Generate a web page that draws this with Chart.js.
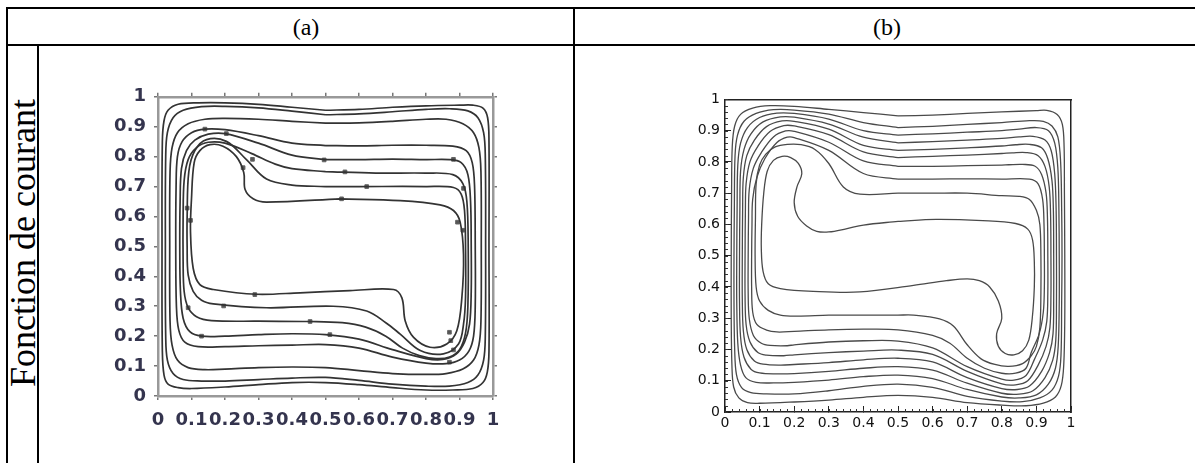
<!DOCTYPE html>
<html>
<head>
<meta charset="utf-8">
<script src="https://cdn.jsdelivr.net/npm/chart.js@4.4.0/dist/chart.umd.min.js"></script>
<style>
  body { margin: 0; background: #fff; width: 1195px; height: 463px; overflow: hidden; position: relative; font-family: "Liberation Serif", "Times New Roman", serif; }
  .ln { position: absolute; background: #000; }
  .hd { position: absolute; top: 27px; font-size: 24px; transform: translate(-50%, -50%); white-space: nowrap; }
  #side { position: absolute; left: 23px; top: 243px; font-size: 36px; white-space: nowrap; transform: translate(-50%, -50%) rotate(-90deg); }
  canvas { position: absolute; }
</style>
</head>
<body>
<div class="ln" style="left:6px;top:7px;width:1189px;height:2px"></div>
<div class="ln" style="left:6px;top:44px;width:1189px;height:2px"></div>
<div class="ln" style="left:6px;top:7px;width:2px;height:456px"></div>
<div class="ln" style="left:37px;top:44px;width:2px;height:419px"></div>
<div class="ln" style="left:573px;top:7px;width:2px;height:456px"></div>
<div class="hd" style="left:306px">(a)</div>
<div class="hd" style="left:887px">(b)</div>
<div id="side">Fonction de courant</div>
<canvas id="chartA" width="420" height="375" style="left:100px;top:78px"></canvas>
<canvas id="chartB" width="435" height="375" style="left:655px;top:80px"></canvas>
<script>
// tick positions and labels shared by both plots
var tickVals = [0, 0.1, 0.2, 0.3, 0.4, 0.5, 0.6, 0.7, 0.8, 0.9, 1];
var tickText = ["0", "0.1", "0.2", "0.3", "0.4", "0.5", "0.6", "0.7", "0.8", "0.9", "1"];

// (a) streamlines, [x, y]
var psiA1 = [[0.5,0.955],[0.4,0.965],[0.3,0.975],[0.2,0.98],[0.12,0.98],[0.06,0.975],[0.03,0.955],[0.018,0.92],[0.013,0.85],[0.012,0.5],[0.013,0.15],[0.018,0.07],[0.03,0.04],[0.06,0.028],[0.1,0.025],[0.2,0.03],[0.3,0.038],[0.4,0.045],[0.5,0.045],[0.6,0.038],[0.7,0.028],[0.8,0.02],[0.88,0.02],[0.94,0.025],[0.97,0.045],[0.983,0.08],[0.988,0.15],[0.988,0.5],[0.988,0.85],[0.984,0.93],[0.97,0.962],[0.94,0.972],[0.9,0.972],[0.8,0.97],[0.7,0.965],[0.6,0.958],[0.5,0.955]];
var psiA2 = [[0.5,0.94],[0.4,0.952],[0.3,0.963],[0.2,0.968],[0.13,0.967],[0.075,0.955],[0.045,0.93],[0.028,0.88],[0.023,0.8],[0.022,0.5],[0.023,0.2],[0.028,0.12],[0.045,0.075],[0.075,0.055],[0.13,0.05],[0.2,0.05],[0.3,0.055],[0.4,0.06],[0.5,0.062],[0.6,0.052],[0.7,0.04],[0.8,0.033],[0.87,0.033],[0.925,0.045],[0.955,0.07],[0.972,0.12],[0.977,0.2],[0.978,0.5],[0.977,0.8],[0.972,0.88],[0.955,0.93],[0.925,0.953],[0.87,0.96],[0.8,0.958],[0.7,0.95],[0.6,0.943],[0.5,0.94]];
var psiA3 = [[0.5,0.912],[0.4,0.918],[0.3,0.925],[0.2,0.928],[0.14,0.925],[0.09,0.91],[0.058,0.88],[0.042,0.83],[0.036,0.75],[0.035,0.5],[0.036,0.25],[0.042,0.17],[0.058,0.12],[0.09,0.095],[0.14,0.088],[0.2,0.09],[0.3,0.095],[0.4,0.097],[0.5,0.095],[0.6,0.085],[0.7,0.075],[0.8,0.072],[0.86,0.075],[0.91,0.09],[0.942,0.12],[0.958,0.17],[0.964,0.25],[0.965,0.5],[0.964,0.75],[0.958,0.83],[0.942,0.88],[0.91,0.91],[0.86,0.925],[0.8,0.925],[0.7,0.918],[0.6,0.913],[0.5,0.912]];
var psiA4 = [[0.5,0.837],[0.4,0.845],[0.3,0.87],[0.2,0.89],[0.14,0.892],[0.1,0.88],[0.072,0.85],[0.058,0.8],[0.054,0.7],[0.053,0.5],[0.055,0.3],[0.062,0.22],[0.08,0.18],[0.12,0.165],[0.2,0.165],[0.3,0.168],[0.4,0.17],[0.5,0.172],[0.6,0.16],[0.7,0.13],[0.8,0.11],[0.86,0.108],[0.9,0.12],[0.928,0.15],[0.942,0.2],[0.947,0.3],[0.947,0.5],[0.945,0.7],[0.938,0.78],[0.92,0.82],[0.88,0.835],[0.8,0.838],[0.7,0.838],[0.6,0.836],[0.5,0.837]];
var psiA5 = [[0.5,0.79],[0.4,0.805],[0.3,0.845],[0.2,0.877],[0.15,0.875],[0.11,0.855],[0.085,0.82],[0.07,0.76],[0.066,0.65],[0.065,0.5],[0.067,0.35],[0.075,0.26],[0.095,0.215],[0.13,0.2],[0.2,0.2],[0.3,0.205],[0.4,0.208],[0.5,0.205],[0.6,0.19],[0.7,0.155],[0.8,0.125],[0.85,0.122],[0.89,0.14],[0.915,0.18],[0.93,0.24],[0.935,0.35],[0.935,0.5],[0.933,0.65],[0.925,0.74],[0.905,0.78],[0.87,0.79],[0.8,0.79],[0.7,0.792],[0.6,0.79],[0.5,0.79]];
var psiA6 = [[0.5,0.75],[0.4,0.76],[0.35,0.775],[0.28,0.81],[0.2,0.845],[0.15,0.848],[0.115,0.83],[0.09,0.79],[0.078,0.72],[0.075,0.6],[0.075,0.45],[0.078,0.35],[0.09,0.295],[0.115,0.265],[0.16,0.252],[0.3,0.25],[0.45,0.249],[0.55,0.245],[0.62,0.23],[0.68,0.2],[0.73,0.16],[0.78,0.135],[0.83,0.125],[0.87,0.13],[0.9,0.155],[0.918,0.21],[0.925,0.3],[0.926,0.5],[0.922,0.65],[0.91,0.71],[0.88,0.74],[0.8,0.745],[0.65,0.745],[0.5,0.75]];
var psiA7 = [[0.5,0.7],[0.4,0.705],[0.324,0.725],[0.264,0.79],[0.204,0.851],[0.145,0.857],[0.11,0.82],[0.092,0.75],[0.087,0.6],[0.087,0.5],[0.09,0.405],[0.105,0.35],[0.13,0.32],[0.165,0.308],[0.324,0.295],[0.523,0.3],[0.623,0.284],[0.68,0.245],[0.723,0.207],[0.783,0.152],[0.852,0.141],[0.897,0.174],[0.912,0.24],[0.918,0.33],[0.918,0.5],[0.915,0.62],[0.905,0.675],[0.882,0.697],[0.8,0.7],[0.6,0.7],[0.5,0.7]];
var psiA8 = [[0.543,0.659],[0.324,0.648],[0.284,0.659],[0.26,0.69],[0.256,0.747],[0.234,0.8],[0.194,0.835],[0.155,0.84],[0.125,0.82],[0.108,0.78],[0.1,0.66],[0.097,0.55],[0.105,0.427],[0.125,0.372],[0.165,0.356],[0.294,0.34],[0.424,0.345],[0.573,0.352],[0.703,0.356],[0.728,0.328],[0.738,0.251],[0.763,0.196],[0.812,0.163],[0.862,0.174],[0.892,0.218],[0.907,0.328],[0.912,0.471],[0.902,0.581],[0.882,0.62],[0.842,0.639],[0.723,0.653],[0.543,0.659]];
// small contour-value marks sitting on the (a) lines
var labelsA = [[0.14,0.892],[0.204,0.877],[0.282,0.791],[0.254,0.763],[0.496,0.789],[0.558,0.749],[0.623,0.7],[0.548,0.659],[0.882,0.791],[0.912,0.694],[0.087,0.628],[0.097,0.587],[0.894,0.581],[0.91,0.554],[0.289,0.339],[0.196,0.301],[0.09,0.295],[0.454,0.249],[0.513,0.205],[0.13,0.2],[0.87,0.213],[0.874,0.185],[0.882,0.154],[0.87,0.113]];

// (b) streamlines
var psiB1 = [[0.5,0.947],[0.4,0.958],[0.3,0.968],[0.2,0.978],[0.13,0.98],[0.08,0.972],[0.045,0.952],[0.028,0.915],[0.021,0.85],[0.019,0.7],[0.018,0.5],[0.018,0.3],[0.02,0.15],[0.025,0.08],[0.04,0.045],[0.065,0.03],[0.1,0.028],[0.2,0.032],[0.3,0.038],[0.4,0.047],[0.5,0.053],[0.6,0.047],[0.7,0.03],[0.8,0.022],[0.87,0.02],[0.92,0.028],[0.955,0.048],[0.972,0.085],[0.979,0.15],[0.982,0.3],[0.982,0.5],[0.981,0.7],[0.98,0.85],[0.975,0.92],[0.96,0.952],[0.93,0.965],[0.9,0.964],[0.8,0.96],[0.7,0.955],[0.6,0.95],[0.5,0.947]];
var psiB2 = [[0.5,0.91],[0.4,0.926],[0.3,0.953],[0.2,0.966],[0.14,0.967],[0.09,0.955],[0.055,0.93],[0.036,0.885],[0.029,0.82],[0.027,0.65],[0.026,0.5],[0.026,0.35],[0.028,0.2],[0.033,0.12],[0.048,0.078],[0.075,0.062],[0.12,0.058],[0.2,0.058],[0.3,0.068],[0.4,0.082],[0.5,0.089],[0.6,0.079],[0.7,0.05],[0.8,0.035],[0.86,0.033],[0.91,0.045],[0.945,0.07],[0.964,0.115],[0.971,0.18],[0.973,0.35],[0.974,0.5],[0.973,0.65],[0.97,0.8],[0.962,0.88],[0.945,0.915],[0.92,0.93],[0.88,0.932],[0.8,0.926],[0.7,0.92],[0.6,0.914],[0.5,0.91]];
var psiB3 = [[0.5,0.886],[0.4,0.9],[0.3,0.937],[0.2,0.955],[0.15,0.956],[0.1,0.942],[0.065,0.91],[0.045,0.86],[0.037,0.79],[0.035,0.65],[0.034,0.5],[0.034,0.35],[0.037,0.22],[0.045,0.15],[0.06,0.11],[0.09,0.095],[0.14,0.093],[0.2,0.095],[0.3,0.102],[0.4,0.113],[0.5,0.118],[0.6,0.107],[0.7,0.072],[0.8,0.048],[0.85,0.045],[0.9,0.055],[0.935,0.09],[0.955,0.14],[0.963,0.21],[0.966,0.35],[0.966,0.5],[0.965,0.65],[0.962,0.78],[0.953,0.86],[0.935,0.9],[0.9,0.91],[0.85,0.905],[0.8,0.9],[0.7,0.895],[0.6,0.89],[0.5,0.886]];
var psiB4 = [[0.5,0.861],[0.4,0.879],[0.3,0.921],[0.2,0.943],[0.16,0.944],[0.11,0.928],[0.075,0.89],[0.055,0.84],[0.045,0.77],[0.043,0.65],[0.042,0.5],[0.042,0.35],[0.045,0.24],[0.055,0.175],[0.075,0.137],[0.1,0.125],[0.15,0.122],[0.2,0.123],[0.3,0.13],[0.4,0.14],[0.5,0.145],[0.6,0.134],[0.7,0.092],[0.8,0.06],[0.85,0.057],[0.89,0.068],[0.925,0.11],[0.947,0.165],[0.956,0.23],[0.958,0.35],[0.958,0.5],[0.957,0.65],[0.953,0.76],[0.943,0.835],[0.925,0.87],[0.89,0.882],[0.85,0.88],[0.8,0.875],[0.7,0.87],[0.6,0.865],[0.5,0.861]];
var psiB5 = [[0.5,0.837],[0.4,0.853],[0.3,0.905],[0.2,0.93],[0.165,0.931],[0.12,0.913],[0.085,0.87],[0.063,0.82],[0.053,0.75],[0.051,0.65],[0.05,0.5],[0.05,0.36],[0.053,0.26],[0.063,0.2],[0.085,0.163],[0.11,0.153],[0.16,0.15],[0.2,0.152],[0.3,0.158],[0.4,0.167],[0.5,0.172],[0.6,0.16],[0.7,0.11],[0.8,0.075],[0.845,0.072],[0.88,0.083],[0.915,0.13],[0.938,0.19],[0.948,0.25],[0.95,0.36],[0.95,0.5],[0.949,0.65],[0.945,0.74],[0.933,0.81],[0.915,0.845],[0.88,0.856],[0.84,0.855],[0.8,0.851],[0.7,0.845],[0.6,0.84],[0.5,0.837]];
var psiB6 = [[0.5,0.814],[0.4,0.832],[0.3,0.887],[0.2,0.915],[0.17,0.916],[0.13,0.897],[0.095,0.85],[0.072,0.8],[0.061,0.73],[0.059,0.65],[0.058,0.5],[0.058,0.37],[0.061,0.28],[0.072,0.225],[0.095,0.19],[0.12,0.182],[0.17,0.18],[0.2,0.183],[0.3,0.19],[0.4,0.195],[0.5,0.198],[0.6,0.184],[0.7,0.13],[0.8,0.09],[0.84,0.087],[0.875,0.1],[0.905,0.15],[0.928,0.21],[0.939,0.27],[0.942,0.37],[0.942,0.5],[0.941,0.63],[0.937,0.72],[0.925,0.785],[0.905,0.82],[0.87,0.83],[0.83,0.829],[0.8,0.827],[0.7,0.822],[0.6,0.818],[0.5,0.814]];
var psiB7 = [[0.5,0.786],[0.4,0.803],[0.3,0.863],[0.2,0.898],[0.175,0.899],[0.14,0.88],[0.105,0.83],[0.082,0.78],[0.07,0.71],[0.068,0.62],[0.067,0.5],[0.067,0.38],[0.07,0.3],[0.082,0.245],[0.105,0.22],[0.13,0.213],[0.18,0.212],[0.2,0.215],[0.3,0.224],[0.4,0.228],[0.5,0.227],[0.6,0.205],[0.7,0.145],[0.8,0.105],[0.835,0.102],[0.87,0.117],[0.895,0.17],[0.918,0.23],[0.93,0.29],[0.933,0.38],[0.933,0.5],[0.932,0.62],[0.928,0.7],[0.915,0.76],[0.895,0.787],[0.86,0.792],[0.82,0.791],[0.8,0.79],[0.7,0.788],[0.6,0.786],[0.5,0.786]];
var psiB8 = [[0.5,0.745],[0.4,0.763],[0.3,0.837],[0.2,0.878],[0.18,0.879],[0.15,0.862],[0.115,0.81],[0.092,0.75],[0.08,0.68],[0.078,0.6],[0.077,0.5],[0.077,0.4],[0.08,0.32],[0.092,0.28],[0.12,0.262],[0.15,0.256],[0.2,0.258],[0.3,0.263],[0.4,0.265],[0.5,0.263],[0.6,0.245],[0.65,0.22],[0.7,0.172],[0.75,0.14],[0.8,0.124],[0.84,0.124],[0.87,0.14],[0.885,0.19],[0.908,0.25],[0.92,0.32],[0.923,0.4],[0.923,0.5],[0.922,0.6],[0.918,0.68],[0.905,0.73],[0.88,0.745],[0.8,0.745],[0.7,0.746],[0.6,0.745],[0.5,0.745]];
var psiB9 = [[0.5,0.7],[0.39,0.697],[0.342,0.72],[0.3,0.795],[0.26,0.84],[0.22,0.855],[0.18,0.856],[0.145,0.848],[0.118,0.825],[0.1,0.79],[0.09,0.73],[0.088,0.62],[0.087,0.5],[0.09,0.4],[0.1,0.355],[0.125,0.325],[0.16,0.31],[0.21,0.307],[0.3,0.31],[0.39,0.31],[0.5,0.31],[0.545,0.31],[0.62,0.298],[0.66,0.275],[0.7,0.215],[0.74,0.17],[0.78,0.152],[0.82,0.146],[0.86,0.155],[0.885,0.18],[0.9,0.21],[0.91,0.27],[0.913,0.38],[0.913,0.5],[0.91,0.6],[0.9,0.645],[0.88,0.68],[0.85,0.69],[0.8,0.692],[0.7,0.7],[0.6,0.7],[0.5,0.7]];
var psiB10 = [[0.5,0.61],[0.4,0.598],[0.35,0.586],[0.3,0.576],[0.265,0.578],[0.236,0.595],[0.21,0.626],[0.2,0.67],[0.208,0.72],[0.222,0.762],[0.212,0.795],[0.19,0.814],[0.165,0.818],[0.14,0.805],[0.122,0.77],[0.112,0.7],[0.106,0.6],[0.105,0.52],[0.11,0.45],[0.125,0.41],[0.16,0.395],[0.255,0.386],[0.39,0.384],[0.545,0.405],[0.64,0.42],[0.7,0.426],[0.735,0.42],[0.765,0.4],[0.79,0.355],[0.8,0.3],[0.785,0.25],[0.79,0.21],[0.81,0.187],[0.835,0.183],[0.86,0.196],[0.878,0.23],[0.888,0.3],[0.894,0.4],[0.894,0.48],[0.889,0.55],[0.875,0.585],[0.84,0.603],[0.745,0.612],[0.61,0.616],[0.5,0.61]];

var linesA = [psiA1, psiA2, psiA3, psiA4, psiA5, psiA6, psiA7, psiA8];
var linesB = [psiB1, psiB2, psiB3, psiB4, psiB5, psiB6, psiB7, psiB8, psiB9, psiB10];

function toXY(pts) {
  return pts.map(function (p) { return { x: p[0], y: p[1] }; });
}

function makeSets(lines, color, width) {
  return lines.map(function (pts) {
    return {
      data: toXY(pts),
      showLine: true,
      borderColor: color,
      borderWidth: width,
      pointRadius: 0,
      tension: 0.35,
      fill: false,
    };
  });
}

function setTicks(scale) {
  scale.ticks = tickVals.map(function (v) { return { value: v }; });
}
function tickLabel(v, i) {
  return tickText[i];
}

// small inward ticks every 0.02 along bottom and left of plot (b)
var minorTicks = {
  id: "minorTicks",
  afterDraw: function (chart) {
    var ctx = chart.ctx;
    var area = chart.chartArea;
    var xs = chart.scales.x;
    var ys = chart.scales.y;
    ctx.save();
    ctx.strokeStyle = "#333";
    ctx.lineWidth = 1;
    ctx.beginPath();
    for (var k = 0; k <= 50; k++) {
      var v = k / 50;
      var px = Math.round(xs.getPixelForValue(v)) + 0.5;
      ctx.moveTo(px, area.bottom);
      ctx.lineTo(px, area.bottom - 3);
      var py = Math.round(ys.getPixelForValue(v)) + 0.5;
      ctx.moveTo(area.left, py);
      ctx.lineTo(area.left + 3, py);
    }
    ctx.stroke();
    ctx.restore();
  },
};

var fontA = { family: "DejaVu Sans", weight: "bold", size: 18 };
var gridA = { drawOnChartArea: false, tickLength: 4, color: "#777", lineWidth: 1.5 };
var borderA = { color: "#999", width: 2.5 };

var setsA = makeSets(linesA, "#333", 1.7);
setsA.push({
  data: toXY(labelsA),
  showLine: false,
  pointStyle: "rect",
  pointRadius: 2.6,
  backgroundColor: "#555",
  borderColor: "#666",
  borderWidth: 1,
});

new Chart(document.getElementById("chartA"), {
  type: "scatter",
  data: { datasets: setsA },
  options: {
    responsive: false,
    animation: false,
    events: [],
    layout: { padding: { left: 0, right: 19, top: 7, bottom: 0 } },
    plugins: { legend: { display: false }, tooltip: { enabled: false } },
    scales: {
      x: {
        type: "linear", position: "bottom", min: 0, max: 1,
        afterBuildTicks: setTicks,
        afterFit: function (s) { s.height = 57; },
        ticks: { callback: tickLabel, font: fontA, color: "#34344e", padding: 10, autoSkip: false, maxRotation: 0, minRotation: 0 },
        grid: gridA, border: borderA,
      },
      x2: {
        type: "linear", position: "top", min: 0, max: 1,
        afterBuildTicks: setTicks,
        afterFit: function (s) { s.height = 8; },
        ticks: { display: false },
        grid: gridA, border: borderA,
      },
      y: {
        type: "linear", position: "left", min: 0, max: 1,
        afterBuildTicks: setTicks,
        afterFit: function (s) { s.width = 58; },
        ticks: { callback: tickLabel, font: fontA, color: "#34344e", padding: 8, autoSkip: false },
        grid: gridA, border: borderA,
      },
      y2: {
        type: "linear", position: "right", min: 0, max: 1,
        afterBuildTicks: setTicks,
        afterFit: function (s) { s.width = 8; },
        ticks: { display: false },
        grid: gridA, border: borderA,
      },
    },
  },
});

var fontB = { family: "DejaVu Sans", size: 14 };
var gridB = { drawOnChartArea: false, tickLength: -6, color: "#222", lineWidth: 1 };
var borderB = { color: "#222", width: 1.5 };

new Chart(document.getElementById("chartB"), {
  type: "scatter",
  data: { datasets: makeSets(linesB, "#4a4a4a", 1.3) },
  options: {
    responsive: false,
    animation: false,
    events: [],
    layout: { padding: { left: 0, right: 19, top: 15, bottom: 0 } },
    plugins: { legend: { display: false }, tooltip: { enabled: false } },
    scales: {
      x: {
        type: "linear", position: "bottom", min: 0, max: 1,
        afterBuildTicks: setTicks,
        afterFit: function (s) { s.height = 43; },
        ticks: { callback: tickLabel, font: fontB, color: "#111", padding: 9, autoSkip: false, maxRotation: 0, minRotation: 0 },
        grid: gridB, border: borderB,
      },
      x2: {
        type: "linear", position: "top", min: 0, max: 1,
        afterFit: function (s) { s.height = 0; },
        ticks: { display: false },
        grid: { display: false }, border: borderB,
      },
      y: {
        type: "linear", position: "left", min: 0, max: 1,
        afterBuildTicks: setTicks,
        afterFit: function (s) { s.width = 70; },
        ticks: { callback: tickLabel, font: fontB, color: "#111", padding: 11, autoSkip: false },
        grid: gridB, border: borderB,
      },
      y2: {
        type: "linear", position: "right", min: 0, max: 1,
        afterFit: function (s) { s.width = 0; },
        ticks: { display: false },
        grid: { display: false }, border: borderB,
      },
    },
  },
  plugins: [minorTicks],
});
</script>
</body>
</html>
